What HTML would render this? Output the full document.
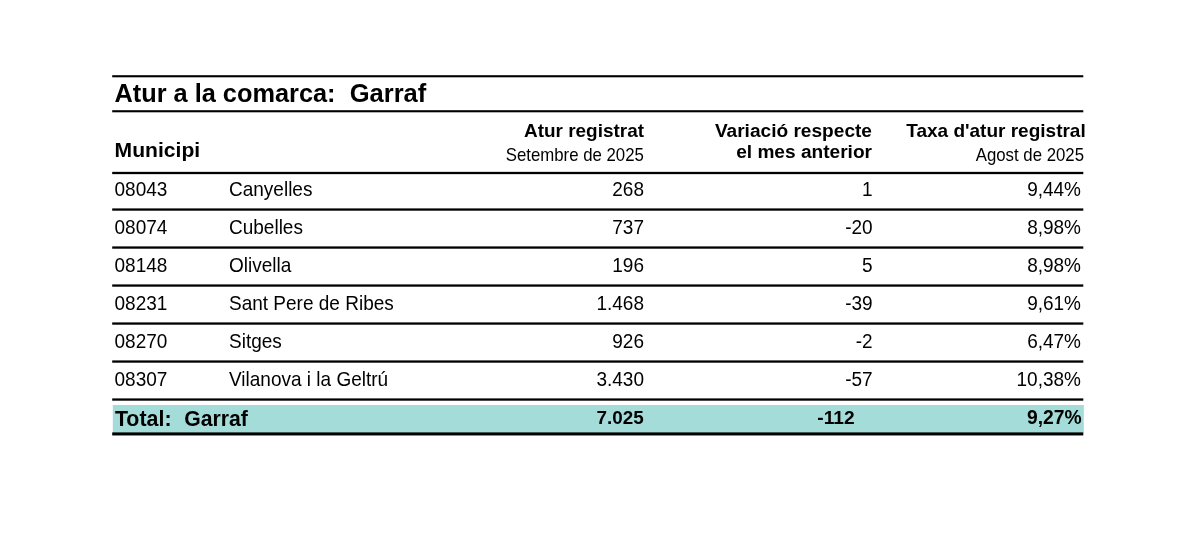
<!DOCTYPE html><html lang="ca"><head><meta charset="utf-8"><title>Atur a la comarca: Garraf</title><style>
html,body{margin:0;padding:0;background:#fff;}
body{width:1200px;height:548px;position:relative;overflow:hidden;font-family:"Liberation Sans",sans-serif;color:#000;}
svg{position:absolute;left:0;top:0;}
.t{position:absolute;white-space:nowrap;line-height:1;transform-origin:0 30px;}
.t::before{content:"";display:inline-block;width:0;height:30px;}
.r{text-align:right;}
.b{font-weight:bold;}
</style></head><body>
<svg width="1200" height="548" viewBox="0 0 1200 548"><rect x="112.20" y="75.20" width="971.10" height="2.10" fill="#000"/>
<rect x="112.20" y="110.20" width="971.10" height="2.10" fill="#000"/>
<rect x="112.20" y="171.85" width="971.10" height="2.30" fill="#000"/>
<rect x="112.20" y="208.40" width="971.10" height="2.30" fill="#000"/>
<rect x="112.20" y="246.40" width="971.10" height="2.30" fill="#000"/>
<rect x="112.20" y="284.40" width="971.10" height="2.30" fill="#000"/>
<rect x="112.20" y="322.40" width="971.10" height="2.30" fill="#000"/>
<rect x="112.20" y="360.40" width="971.10" height="2.30" fill="#000"/>
<rect x="112.20" y="398.40" width="971.10" height="2.30" fill="#000"/>
<rect x="112.8" y="405" width="971.00" height="28" fill="#a3dcd9"/>
<rect x="112.20" y="432.40" width="971.10" height="3.05" fill="#000"/></svg>
<div class="t b" style="left:114.5px;top:72px;font-size:25.33px">Atur a la comarca:</div>
<div class="t b" style="left:349.7px;top:72px;font-size:25.5px">Garraf</div>
<div class="t b" style="left:114.6px;top:127px;font-size:21.1px">Municipi</div>
<div class="t b r" style="right:556px;top:107px;font-size:18.95px">Atur registrat</div>
<div class="t r" style="right:556.2px;top:131px;font-size:16.8px;transform:scaleY(1.04)">Setembre de 2025</div>
<div class="t b r" style="right:328px;top:107px;font-size:19.1px">Variació respecte</div>
<div class="t b r" style="right:328px;top:128px;font-size:19.1px">el mes anterior</div>
<div class="t b r" style="right:114.3px;top:107px;font-size:19px">Taxa d'atur registral</div>
<div class="t r" style="right:116px;top:131px;font-size:16.8px;transform:scaleY(1.04)">Agost de 2025</div>
<div class="t" style="left:114.5px;top:166px;font-size:19px;transform:scaleY(1.07)">08043</div>
<div class="t" style="left:229px;top:166px;font-size:19px;transform:scaleY(1.07)">Canyelles</div>
<div class="t r" style="right:556px;top:166px;font-size:19px;transform:scaleY(1.07)">268</div>
<div class="t r" style="right:327.4px;top:166px;font-size:19px;transform:scaleY(1.07)">1</div>
<div class="t r" style="right:119px;top:166px;font-size:19px;transform:scaleY(1.07)">9,44%</div>
<div class="t" style="left:114.5px;top:204px;font-size:19px;transform:scaleY(1.07)">08074</div>
<div class="t" style="left:229px;top:204px;font-size:19px;transform:scaleY(1.07)">Cubelles</div>
<div class="t r" style="right:556px;top:204px;font-size:19px;transform:scaleY(1.07)">737</div>
<div class="t r" style="right:327.4px;top:204px;font-size:19px;transform:scaleY(1.07)">-20</div>
<div class="t r" style="right:119px;top:204px;font-size:19px;transform:scaleY(1.07)">8,98%</div>
<div class="t" style="left:114.5px;top:242px;font-size:19px;transform:scaleY(1.07)">08148</div>
<div class="t" style="left:229px;top:242px;font-size:19px;transform:scaleY(1.07)">Olivella</div>
<div class="t r" style="right:556px;top:242px;font-size:19px;transform:scaleY(1.07)">196</div>
<div class="t r" style="right:327.4px;top:242px;font-size:19px;transform:scaleY(1.07)">5</div>
<div class="t r" style="right:119px;top:242px;font-size:19px;transform:scaleY(1.07)">8,98%</div>
<div class="t" style="left:114.5px;top:280px;font-size:19px;transform:scaleY(1.07)">08231</div>
<div class="t" style="left:229px;top:280px;font-size:19px;transform:scaleY(1.07)">Sant Pere de Ribes</div>
<div class="t r" style="right:556px;top:280px;font-size:19px;transform:scaleY(1.07)">1.468</div>
<div class="t r" style="right:327.4px;top:280px;font-size:19px;transform:scaleY(1.07)">-39</div>
<div class="t r" style="right:119px;top:280px;font-size:19px;transform:scaleY(1.07)">9,61%</div>
<div class="t" style="left:114.5px;top:318px;font-size:19px;transform:scaleY(1.07)">08270</div>
<div class="t" style="left:229px;top:318px;font-size:19px;transform:scaleY(1.07)">Sitges</div>
<div class="t r" style="right:556px;top:318px;font-size:19px;transform:scaleY(1.07)">926</div>
<div class="t r" style="right:327.4px;top:318px;font-size:19px;transform:scaleY(1.07)">-2</div>
<div class="t r" style="right:119px;top:318px;font-size:19px;transform:scaleY(1.07)">6,47%</div>
<div class="t" style="left:114.5px;top:356px;font-size:19px;transform:scaleY(1.07)">08307</div>
<div class="t" style="left:229px;top:356px;font-size:19px;transform:scaleY(1.07)">Vilanova i la Geltrú</div>
<div class="t r" style="right:556px;top:356px;font-size:19px;transform:scaleY(1.07)">3.430</div>
<div class="t r" style="right:327.4px;top:356px;font-size:19px;transform:scaleY(1.07)">-57</div>
<div class="t r" style="right:119px;top:356px;font-size:19px;transform:scaleY(1.07)">10,38%</div>
<div class="t b" style="left:114.9px;top:396px;font-size:21.4px;transform:scaleY(1.04)">Total:</div>
<div class="t b" style="left:184.2px;top:396px;font-size:21.2px;transform:scaleY(1.04)">Garraf</div>
<div class="t b r" style="right:556.3px;top:394px;font-size:18.85px">7.025</div>
<div class="t b r" style="right:345.4px;top:394px;font-size:19.2px">-112</div>
<div class="t b r" style="right:118.3px;top:394px;font-size:19.3px;transform:scaleY(1.03)">9,27%</div>
</body></html>
